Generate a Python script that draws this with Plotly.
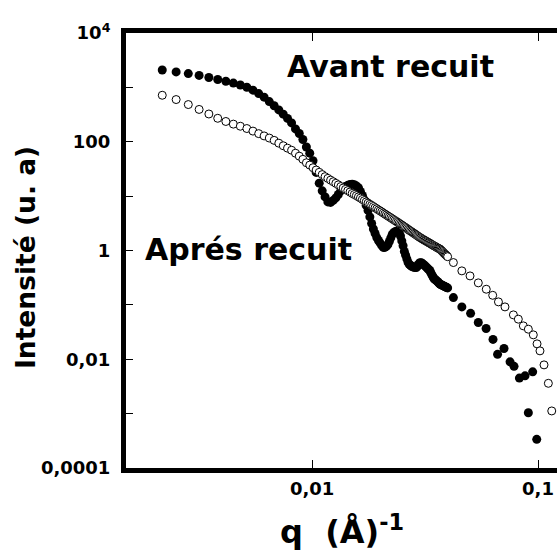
import plotly.graph_objects as go

# q grid (Å^-1) of the dense part, shared by both series
q_dense = [0.00217, 0.00250, 0.00283, 0.00316, 0.00349, 0.00382, 0.00415, 0.00448, 0.00481, 0.00514,
           0.00547, 0.00580, 0.00613, 0.00646, 0.00679, 0.00712, 0.00745, 0.00778, 0.00811, 0.00844,
           0.00877, 0.00910, 0.00943, 0.00976, 0.01009, 0.01042, 0.01075, 0.01108, 0.01141, 0.01174,
           0.01207, 0.01240, 0.01273, 0.01306, 0.01339, 0.01372, 0.01405, 0.01438, 0.01471, 0.01504,
           0.01537, 0.01570, 0.01603, 0.01636, 0.01669, 0.01702, 0.01735, 0.01768, 0.01801, 0.01834,
           0.01867, 0.01900, 0.01933, 0.01966, 0.01999, 0.02032, 0.02065, 0.02098, 0.02131, 0.02164,
           0.02197, 0.02230, 0.02263, 0.02296, 0.02329, 0.02362, 0.02395, 0.02428, 0.02461, 0.02494,
           0.02527, 0.02560, 0.02593, 0.02626, 0.02659, 0.02692, 0.02725, 0.02758, 0.02791, 0.02824,
           0.02857, 0.02890, 0.02923, 0.02956, 0.02989, 0.03022, 0.03055, 0.03088, 0.03121, 0.03154,
           0.03187, 0.03220, 0.03253, 0.03286, 0.03319, 0.03352, 0.03385, 0.03418, 0.03451, 0.03484,
           0.03517, 0.03550, 0.03583, 0.03616, 0.03649, 0.03682, 0.03715, 0.03748, 0.03781, 0.03814,
           0.03847, 0.03880, 0.03913, 0.03946, 0.03979]

# open circles
I_open_dense = [716, 597, 483, 393, 324, 270, 236, 211, 193, 175,
                157, 141, 128, 117, 106, 94.2, 84.4, 76.2, 69.8, 61.5,
                54.3, 47.5, 41.1, 37.2, 33.3, 30.2, 27.4, 24.9, 22.8, 21.2,
                19.7, 18.4, 17.2, 16.1, 15.0, 14.1, 13.3, 12.6, 11.9, 11.2,
                10.7, 10.2, 9.67, 9.19, 8.69, 8.26, 7.82, 7.43, 7.06, 6.75,
                6.44, 6.12, 5.85, 5.57, 5.35, 5.13, 4.89, 4.69, 4.50, 4.31,
                4.15, 3.99, 3.83, 3.68, 3.55, 3.41, 3.29, 3.16, 3.04, 2.94,
                2.83, 2.73, 2.64, 2.54, 2.44, 2.36, 2.28, 2.21, 2.13, 2.06,
                2.00, 1.93, 1.87, 1.81, 1.75, 1.71, 1.66, 1.61, 1.57, 1.53,
                1.50, 1.46, 1.42, 1.39, 1.36, 1.32, 1.29, 1.26, 1.23, 1.20,
                1.18, 1.15, 1.12, 1.10, 1.08, 1.06, 1.02, 0.984, 0.951, 0.914,
                0.881, 0.851, 0.822, 0.796, 0.769]
q_open_tail = [0.0422, 0.0460, 0.0500, 0.0544, 0.0590, 0.0630, 0.0668, 0.0714, 0.0778, 0.0818,
               0.0861, 0.0906, 0.0953, 0.0990, 0.1020, 0.1063, 0.1111, 0.1150]
I_open_tail = [0.600, 0.422, 0.341, 0.254, 0.194, 0.150, 0.1135, 0.0918, 0.0655, 0.0546,
               0.0411, 0.0357, 0.0281, 0.0192, 0.01426, 0.00788, 0.00361, 0.00112]

# filled circles
I_filled_dense = [2089, 1927, 1794, 1662, 1521, 1397, 1294, 1199, 1107, 1004,
                  889, 769, 661, 548, 459, 385, 322, 269, 222, 172,
                  142, 110, 80.2, 61.7, 44.8, 27.3, 17.3, 12.5, 9.67, 7.82,
                  7.66, 8.34, 9.27, 10.7, 12.5, 14.2, 15.1, 15.8, 16.3, 16.6,
                  16.2, 15.4, 14.3, 12.2, 10.3, 8.51, 6.75, 5.46, 4.15, 3.15,
                  2.49, 2.06, 1.73, 1.53, 1.38, 1.24, 1.14, 1.14, 1.19, 1.28,
                  1.47, 1.71, 1.98, 2.12, 2.22, 2.27, 2.29, 2.15, 1.85, 1.50,
                  1.22, 0.962, 0.822, 0.701, 0.604, 0.555, 0.532, 0.514, 0.500, 0.493,
                  0.489, 0.487, 0.510, 0.555, 0.592, 0.597, 0.586, 0.568, 0.548, 0.526,
                  0.504, 0.483, 0.462, 0.444, 0.428, 0.391, 0.361, 0.336, 0.311, 0.299,
                  0.288, 0.280, 0.270, 0.260, 0.249, 0.241, 0.236, 0.232, 0.228, 0.223,
                  0.220, 0.216, 0.212, 0.208, 0.205]
q_filled_tail = [0.0422, 0.0460, 0.0503, 0.0544, 0.0589, 0.0632, 0.0662, 0.0707, 0.0752, 0.0783,
                 0.0827, 0.0876, 0.0906, 0.0947, 0.0987]
I_filled_tail = [0.136, 0.0918, 0.0698, 0.0473, 0.0367, 0.0232, 0.0123, 0.0158, 0.00895, 0.00741,
                 0.0045, 0.00495, 0.00104, 0.00586, 0.000337]

x_tickvals = [0.01, 0.1]
x_ticktext = ["0,01", "0,1"]
y_tickvals = [1e-4, 1e-2, 1, 100, 1e4]
y_ticktext = ["0,0001", "0,01", "1", "100", "10<sup>4</sup>"]
y_minor_tickvals = [1e-3, 1e-1, 10, 1e3]

FONT = "DejaVu Sans"

fig = go.Figure()
fig.add_trace(go.Scatter(
    x=q_dense + q_filled_tail, y=I_filled_dense + I_filled_tail, mode="markers",
    marker=dict(symbol="circle", size=9, color="black", line=dict(width=0)),
    showlegend=False, hoverinfo="skip"))
fig.add_trace(go.Scatter(
    x=q_dense + q_open_tail, y=I_open_dense + I_open_tail, mode="markers",
    marker=dict(symbol="circle", size=8, color="white", line=dict(width=1, color="black")),
    showlegend=False, hoverinfo="skip"))

fig.update_layout(
    width=557, height=556,
    margin=dict(l=126, r=0, t=33, b=88),
    paper_bgcolor="white", plot_bgcolor="white",
    font=dict(family=FONT, color="black"),
    showlegend=False,
    xaxis=dict(type="log", range=[-2.824, -0.916], showgrid=False, zeroline=False,
               showline=True, linecolor="black", linewidth=5, mirror="ticks",
               ticks="inside", ticklen=8, tickwidth=1, tickcolor="black",
               tickmode="array", tickvals=x_tickvals, ticktext=x_ticktext,
               tickfont=dict(family=FONT, size=18, weight="bold", color="black")),
    yaxis=dict(type="log", range=[-4, 4], showgrid=False, zeroline=False,
               showline=True, linecolor="black", linewidth=5,
               ticks="inside", ticklen=7, tickwidth=1, tickcolor="black",
               tickmode="array", tickvals=y_tickvals, ticktext=y_ticktext,
               ticklabelstandoff=7,
               minor=dict(tickmode="array", tickvals=y_minor_tickvals, ticks="inside",
                          ticklen=7, tickwidth=1, tickcolor="black", showgrid=False),
               tickfont=dict(family=FONT, size=18, weight="bold", color="black")),
    annotations=[
        dict(text="Avant recuit", xref="paper", yref="paper", x=0.369, y=0.922,
             xanchor="left", yanchor="middle", showarrow=False,
             font=dict(family=FONT, size=30, weight="bold", color="black")),
        dict(text="Aprés recuit", xref="paper", yref="paper", x=0.040, y=0.503,
             xanchor="left", yanchor="middle", showarrow=False,
             font=dict(family=FONT, size=30, weight="bold", color="black")),
        dict(text="Intensité (u. a)", xref="paper", yref="paper", x=-0.233, y=0.484,
             xanchor="center", yanchor="middle", showarrow=False, textangle=-90,
             font=dict(family=FONT, size=26.5, weight="bold", color="black")),
        dict(text="q\u00a0\u00a0(Å)<sup>-1</sup>", xref="paper", yref="paper", x=0.5, y=-0.142,
             xanchor="center", yanchor="middle", showarrow=False,
             font=dict(family=FONT, size=32, weight="bold", color="black")),
    ],
)

fig.write_html("out.html", config={"displayModeBar": False},
               post_script="document.body.style.margin='0';")
